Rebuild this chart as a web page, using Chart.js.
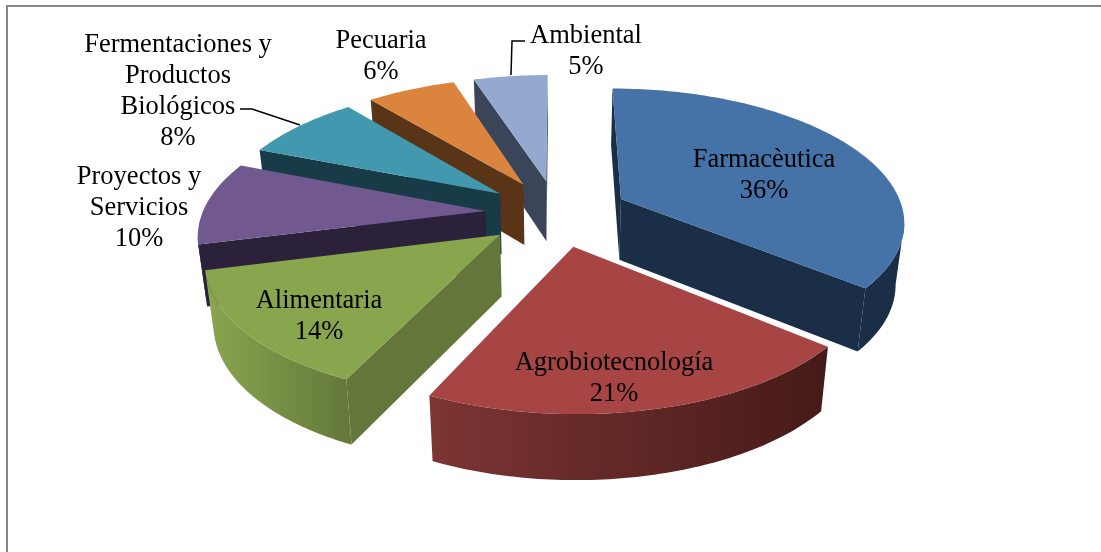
<!DOCTYPE html>
<html><head><meta charset="utf-8">
<style>html,body{margin:0;padding:0;background:#fff}#w{width:1101px;height:552px;position:relative}</style>
<script src="https://cdn.jsdelivr.net/npm/chart.js@4"></script></head>
<body><div id="w"><canvas id="c"></canvas></div>
<script>
const categories=['Farmacèutica','Agrobiotecnología','Alimentaria','Proyectos y Servicios','Fermentaciones y Productos Biológicos','Pecuaria','Ambiental'];
const shares=[36,21,14,10,8,6,5];
const topColors=['#4572a7','#a64543','#89a54e','#71588f','#4198af','#db843d','#93a9cf'];
const cutColors=['#1a2e47','#451c1a','#64763a','#2b213a','#183b48','#5a3416','#3b4559'];
const wallStart=['#1a2e47','#451a18','#64793a','#2b213a','#183b48','#5a3416','#3b4559'];
const wallEnd=['#1a2e47','#7c3533','#8ba650','#2b213a','#183b48','#5a3416','#3b4559'];
const paintOrder=[6,5,4,3,0,1,2];
const labelLines=[['Farmacèutica','36%'],['Agrobiotecnología','21%'],['Alimentaria','14%'],['Proyectos y','Servicios','10%'],['Fermentaciones y','Productos','Biológicos','8%'],['Pecuaria','6%'],['Ambiental','5%']];
const labelAnchor=[[764,167],[614,370],[319,308],[139,184],[178,52],[381,48],[586,43]];
const labelStep=31;
const leaders=[[[240,109],[252,109],[300,125]],[[525,41],[512,41],[511,75]]];
const P={a:283,b:131,px:0.155,py:0.15,drop:61,dropY:4,shrink:0.975};
const pie3d={id:'pie3d',
 beforeDatasetDraw(chart,args){
  const ctx=chart.ctx,meta=args.meta;
  ctx.fillStyle='#868686';ctx.fillRect(6,5,1095,2);ctx.fillRect(6,5,2,547);
  paintOrder.forEach(i=>{
   const arc=meta.data[i],R=arc.outerRadius,cx=arc.x,cy=arc.y;
   const mid=(arc.startAngle+arc.endAngle)/2,e=arc.options.offset/R;
   const ax=e*Math.cos(mid),ay=e*Math.sin(mid);
   const proj=(X,Y)=>({x:cx+P.a*X/(1-P.px*Y),y:cy+P.b*Y/(1-P.py*Y),Y});
   const low=q=>({x:cx+(q.x-cx)*P.shrink,y:q.y+P.drop+P.dropY*q.Y});
   const pts=[];const n=Math.max(8,Math.round((arc.endAngle-arc.startAngle)*180/Math.PI));
   for(let k=0;k<=n;k++){const t=arc.startAngle+(arc.endAngle-arc.startAngle)*k/n;pts.push(proj(ax+Math.cos(t),ay+Math.sin(t)));}
   const apex=proj(ax,ay);
   const poly=(top,col)=>{ctx.beginPath();top.forEach((q,j)=>j?ctx.lineTo(q.x,q.y):ctx.moveTo(q.x,q.y));top.slice().reverse().forEach(q=>{const l=low(q);ctx.lineTo(l.x,l.y);});ctx.closePath();ctx.fillStyle=col;ctx.fill();};
   if(pts[0].x<apex.x)poly([apex,pts[0]],cutColors[i]);
   if(apex.x<pts[n].x)poly([pts[n],apex],cutColors[i]);
   const vis=pts.filter((q,k)=>(k<n&&pts[k+1].x<q.x)||(k>0&&q.x<pts[k-1].x));
   if(vis.length>1){
    const g=ctx.createLinearGradient(vis[0].x,0,vis[vis.length-1].x,0);
    g.addColorStop(0,wallStart[i]);g.addColorStop(1,wallEnd[i]);
    poly(vis,g);
   }
   ctx.beginPath();ctx.moveTo(apex.x,apex.y);pts.forEach(q=>ctx.lineTo(q.x,q.y));ctx.closePath();
   ctx.fillStyle=arc.options.backgroundColor;ctx.fill();
  });
  return false;
 },
 afterDatasetsDraw(chart){
  const ctx=chart.ctx;
  ctx.strokeStyle='#000';ctx.lineWidth=1.5;
  leaders.forEach(l=>{ctx.beginPath();l.forEach((p,i)=>i?ctx.lineTo(p[0],p[1]):ctx.moveTo(p[0],p[1]));ctx.stroke();});
  ctx.fillStyle='#000';ctx.font='26.5px "Liberation Serif"';ctx.textAlign='center';ctx.textBaseline='alphabetic';
  labelLines.forEach((ls,i)=>ls.forEach((t,j)=>ctx.fillText(t,labelAnchor[i][0],labelAnchor[i][1]+j*labelStep)));
 }};
new Chart(document.getElementById('c'),{type:'pie',
 data:{labels:categories,datasets:[{data:shares,backgroundColor:topColors,borderWidth:0,offset:48}]},
 options:{responsive:true,maintainAspectRatio:false,animation:false,
  layout:{padding:{left:13,top:0,right:0,bottom:126}},
  plugins:{legend:{display:false},tooltip:{enabled:false},title:{display:false}}},
 plugins:[pie3d]});
</script></body></html>
